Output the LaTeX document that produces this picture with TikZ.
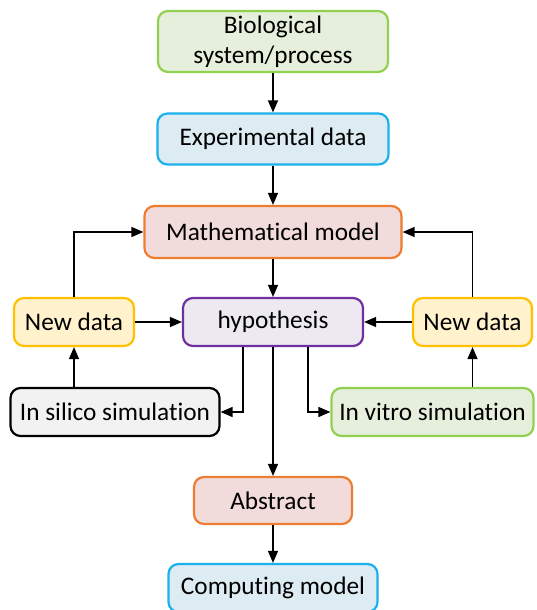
\documentclass[tikz,border=0pt]{standalone}
\usepackage{xcolor}
\usepackage{tikz}
\usepackage{fontspec}
\setmainfont{Carlito}[Ligatures=NoCommon]
\usetikzlibrary{arrows.meta}
\definecolor{c1}{HTML}{92D050}
\definecolor{c1f}{HTML}{E6EFDB}
\definecolor{c2}{HTML}{1CB0EC}
\definecolor{c2f}{HTML}{DDECF3}
\definecolor{c3}{HTML}{ED7D31}
\definecolor{c3f}{HTML}{F2DCDB}
\definecolor{c4}{HTML}{7030A0}
\definecolor{c4f}{HTML}{ECE9F1}
\definecolor{c5}{HTML}{FFC000}
\definecolor{c5f}{HTML}{FFF2CC}
\definecolor{c6f}{HTML}{F2F2F2}

\begin{document}
\begin{tikzpicture}[x=1pt, y=-1pt,
        box/.style = {rounded corners=10pt, line width=2.2pt, align=center,
            inner sep=0pt, font=\fontsize{25.3}{30}\selectfont},
        link/.style = {line width=1.4pt, -{Triangle[length=12pt, width=10pt]}}]
        \useasboundingbox (0, 0) rectangle (536, 610);
	\node [box, draw=c1, fill=c1f, minimum width=230, minimum height=61] (bio) at (273, 41.5) {Biological\\system/process};
	\node [box, draw=c2, fill=c2f, minimum width=231, minimum height=51] (exp) at (273, 139) {Experimental data};
	\node [box, draw=c3, fill=c3f, minimum width=257, minimum height=52] (math) at (273, 232) {Mathematical model};
	\node [box, draw=c4, fill=c4f, minimum width=180, minimum height=48] (hyp) at (273, 322) {hypothesis};
	\node [box, draw=c5, fill=c5f, minimum width=120, minimum height=48] (ndl) at (74, 322) {New data};
	\node [box, draw=c5, fill=c5f, minimum width=119, minimum height=48] (ndr) at (472.5, 322) {New data};
	\node [box, draw=black, fill=c6f, minimum width=209, minimum height=48] (silico) at (115, 412) {In silico simulation};
	\node [box, draw=c1, fill=c1f, minimum width=202, minimum height=48] (vitro) at (432.5, 412) {In vitro simulation};
	\node [box, draw=c3, fill=c3f, minimum width=158, minimum height=47] (abs) at (273, 500.5) {Abstract};
	\node [box, draw=c2, fill=c2f, minimum width=209, minimum height=48] (comp) at (273, 588) {Computing model};

	\draw [link] (bio) -- (exp);
	\draw [link] (exp) -- (math);
	\draw [link] (math) -- (hyp);
	\draw [link] (hyp) -- (abs);
	\draw [link] (abs) -- (comp);
	\draw [link] (ndl) -- (hyp);
	\draw [link] (ndr) -- (hyp);
	\draw [link] (ndl.north) |- (math.west);
	\draw [link] (ndr.north) |- (math.east);
	\draw [link] (silico.north -| ndl.south) -- (ndl.south);
	\draw [link] (vitro.north -| ndr.south) -- (ndr.south);
	\draw [link] ([xshift=-30pt]hyp.south) |- (silico.east);
	\draw [link] ([xshift=35pt]hyp.south) |- (vitro.west);
    \end{tikzpicture}
\end{document}
